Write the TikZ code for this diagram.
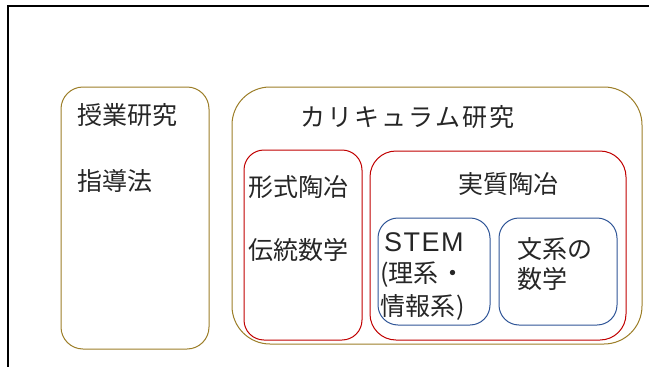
\documentclass[tikz,border=0pt]{standalone}
\usepackage{fontspec}
\setmainfont{Noto Sans CJK JP}
\newfontfamily\latinfont{Liberation Sans}
\definecolor{goldline}{RGB}{156,126,40}
\definecolor{redline}{RGB}{192,0,0}
\definecolor{blueline}{RGB}{47,85,151}
\tikzset{
  rbox/.style={draw, line width=1pt, inner sep=0pt, fill=none},
  lbl/.style={inner sep=0pt, anchor=west, font=\fontsize{25}{30}\selectfont, text=black!85}
}
\begin{document}
\begin{tikzpicture}[x=1pt,y=-1pt]
\useasboundingbox (0,0) rectangle (649,367);
% slide frame (top and left edges)
\coordinate (fbl) at (8,367);
\coordinate (ftl) at (8,6);
\coordinate (ftr) at (649,6);
\draw[line width=2.5pt] (fbl) -- (ftl) -- (ftr);
% boxes
\node[rbox, draw=goldline, rounded corners=22pt, minimum width=148pt, minimum height=262pt] (kbox) at (135,218) {};
\node[rbox, draw=goldline, rounded corners=38pt, minimum width=410pt, minimum height=257pt] (cbox) at (437,215.5) {};
\node[rbox, draw=redline, rounded corners=20pt, minimum width=118pt, minimum height=190pt] (fbox) at (303,245) {};
\node[rbox, draw=redline, rounded corners=26pt, minimum width=256pt, minimum height=189pt] (jbox) at (498,245.5) {};
\node[rbox, draw=blueline, rounded corners=20pt, minimum width=112pt, minimum height=107pt] (sbox) at (434,271.5) {};
\node[rbox, draw=blueline, rounded corners=20pt, minimum width=118pt, minimum height=107pt] (bbox) at (558,271.5) {};
% texts
\node[lbl] (t1) at (77,115) {授業研究};
\node[lbl] (t2) at (77,181) {指導法};
\node[lbl] (t3) at (300,117) {カ\kern2pt リ\kern2pt キ\kern2pt ュ\kern2pt ラ\kern2pt ム\kern2pt 研\kern2pt 究};
\node[lbl] (t4) at (248,187) {形式陶冶};
\node[lbl] (t5) at (248,250) {伝統数学};
\node[lbl] (t6) at (458,184) {実質陶冶};
\node[lbl, font=\latinfont\fontsize{27}{30}\selectfont] (t7) at (384,242) {S\kern1.5pt T\kern1.5pt E\kern1.5pt M};
\node[lbl] (t8) at (380,275) {(理系\kern2pt ・};
\node[lbl] (t9) at (380,307) {情報系\kern1pt)};
\node[lbl] (t10) at (517,249) {文系の};
\node[lbl] (t11) at (517,279) {数学};
\end{tikzpicture}
\end{document}
